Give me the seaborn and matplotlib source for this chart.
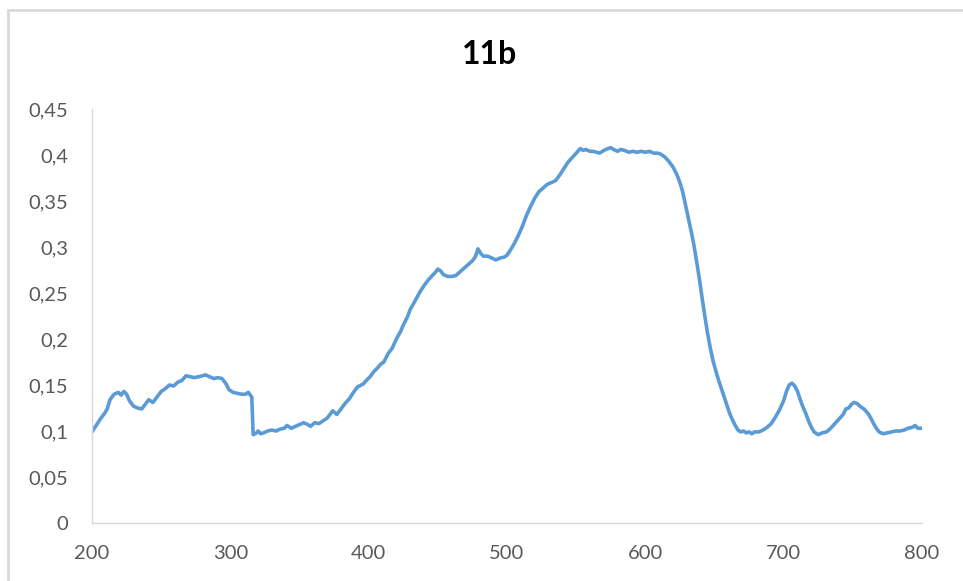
import matplotlib
matplotlib.use("Agg")
import matplotlib.pyplot as plt
import seaborn as sns
import pandas as pd
from matplotlib.ticker import FuncFormatter, MultipleLocator
from matplotlib.lines import Line2D

wavelength = [
    200, 203, 206, 209, 211, 213, 216, 219, 221, 223,
    225, 227, 230, 233, 236, 239, 241, 244, 247, 250,
    253, 256, 259, 262, 265, 268, 271, 274, 277, 280,
    282, 285, 288, 291, 294, 297, 299, 302, 305, 308,
    311, 313, 315.5, 316.5, 319, 320, 322, 324, 327, 330,
    333, 336, 339, 341, 344, 347, 350, 353, 356, 358,
    361, 364, 367, 370, 374, 377, 380, 383, 386, 389,
    392, 396, 399, 401, 404, 406, 409, 411, 414, 417,
    420, 423, 425, 428, 430, 433, 437, 440, 443, 446,
    448, 450, 452, 454, 457, 460, 463, 466, 469, 472,
    475, 477, 479, 481, 483, 486, 489, 492, 495, 498,
    500, 503, 505, 508, 511, 514, 517, 520, 523, 526,
    529, 532, 535, 538, 541, 544, 547, 550, 553, 555,
    557, 560, 562, 565, 567, 570, 573, 575, 577, 580,
    582, 585, 588, 591, 594, 597, 600, 603, 606, 609,
    611, 614, 617, 620, 623, 625, 627, 629, 631, 633,
    635, 637, 639, 641, 643, 645, 647, 649, 651, 653,
    655, 657, 659, 661, 663, 665, 667, 669, 671, 673,
    675, 677, 679, 682, 685, 688, 691, 694, 697, 700,
    702, 704, 706, 708, 710, 712, 714, 716, 718, 720,
    722, 725, 728, 731, 734, 737, 740, 743, 745, 747,
    749, 751, 753, 755, 758, 761, 763, 765, 767, 769,
    772, 775, 778, 781, 784, 787, 790, 793, 795, 797, 800,
]
absorbance = [
    0.099, 0.106, 0.113, 0.119, 0.124, 0.134, 0.140, 0.142, 0.139, 0.143,
    0.140, 0.133, 0.127, 0.125, 0.124, 0.130, 0.134, 0.131, 0.137, 0.143,
    0.146, 0.150, 0.149, 0.153, 0.155, 0.160, 0.159, 0.158, 0.159, 0.160,
    0.161, 0.159, 0.157, 0.158, 0.157, 0.151, 0.145, 0.142, 0.141, 0.140,
    0.140, 0.142, 0.137, 0.096, 0.098, 0.100, 0.097, 0.098, 0.100, 0.101,
    0.100, 0.102, 0.103, 0.106, 0.103, 0.105, 0.107, 0.109, 0.107, 0.105,
    0.109, 0.108, 0.111, 0.114, 0.122, 0.118, 0.124, 0.130, 0.135, 0.142,
    0.148, 0.151, 0.156, 0.159, 0.165, 0.168, 0.173, 0.175, 0.184, 0.190,
    0.200, 0.208, 0.215, 0.224, 0.232, 0.240, 0.251, 0.258, 0.264, 0.269,
    0.272, 0.276, 0.274, 0.270, 0.268, 0.268, 0.269, 0.273, 0.277, 0.281,
    0.285, 0.289, 0.298, 0.293, 0.290, 0.290, 0.288, 0.286, 0.288, 0.289,
    0.291, 0.298, 0.303, 0.312, 0.322, 0.334, 0.344, 0.353, 0.360, 0.364,
    0.368, 0.370, 0.372, 0.378, 0.385, 0.392, 0.397, 0.402, 0.407, 0.405,
    0.406, 0.404, 0.404, 0.403, 0.402, 0.405, 0.407, 0.408, 0.406, 0.404,
    0.406, 0.405, 0.403, 0.404, 0.403, 0.404, 0.403, 0.404, 0.402, 0.402,
    0.401, 0.398, 0.393, 0.387, 0.378, 0.370, 0.360, 0.346, 0.332, 0.318,
    0.303, 0.285, 0.266, 0.245, 0.225, 0.206, 0.190, 0.176, 0.165, 0.155,
    0.146, 0.137, 0.128, 0.119, 0.112, 0.106, 0.101, 0.099, 0.100, 0.098,
    0.099, 0.097, 0.099, 0.099, 0.101, 0.104, 0.108, 0.115, 0.123, 0.133,
    0.143, 0.150, 0.152, 0.149, 0.143, 0.134, 0.126, 0.119, 0.111, 0.104,
    0.099, 0.096, 0.098, 0.099, 0.103, 0.108, 0.113, 0.118, 0.124, 0.125,
    0.129, 0.131, 0.130, 0.127, 0.124, 0.119, 0.114, 0.108, 0.103, 0.099,
    0.097, 0.098, 0.099, 0.100, 0.100, 0.101, 0.103, 0.104, 0.106, 0.103, 0.103,
]
title = "11b"

sns.set_style("white")
plt.rcParams['font.family'] = ['Lato', 'DejaVu Sans']

df = pd.DataFrame({"wl": wavelength, "abs": absorbance})

fig = plt.figure(figsize=(9.63, 5.81), dpi=100)
ax = fig.add_axes([92/963, 1-523/581, (922-92)/963, (523-109)/581])
sns.lineplot(data=df, x="wl", y="abs", ax=ax, color="#5B9BD5", linewidth=2.6, sort=False)

ax.set_xlim(200, 800)
ax.set_ylim(0, 0.45)
ax.xaxis.set_major_locator(MultipleLocator(100))
ax.yaxis.set_major_locator(MultipleLocator(0.05))
ax.yaxis.set_major_formatter(FuncFormatter(lambda v, p: f"{round(v, 2):g}".replace('.', ',')))
ax.set_xlabel("")
ax.set_ylabel("")
for s in ["top", "right"]:
    ax.spines[s].set_visible(False)
for s in ["left", "bottom"]:
    ax.spines[s].set_color("#D9D9D9")
    ax.spines[s].set_linewidth(1.0)
ax.tick_params(axis="both", direction="out", width=1, color="#D9D9D9",
               labelcolor="#595959", labelsize=14.5)
ax.tick_params(axis="y", length=6, pad=11)
ax.tick_params(axis="x", length=6, pad=10)
ax.grid(False)

fig.text(490/963, 1-54/581, title, ha="center", va="center", fontsize=23, fontweight="bold", color="black")

# chart frame edges
fig.add_artist(Line2D([8/963, 1], [1-10/581, 1-10/581], color="#D9D9D9", linewidth=2, transform=fig.transFigure))
fig.add_artist(Line2D([8/963, 8/963], [0, 1-10/581], color="#D9D9D9", linewidth=2, transform=fig.transFigure))

fig.savefig("out.png", dpi=100)
